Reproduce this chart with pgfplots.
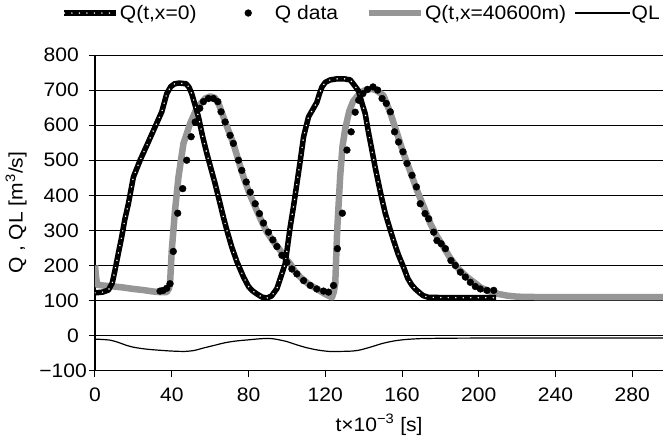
\documentclass[border=0pt]{standalone}
\usepackage{fontspec}
\setmainfont{Liberation Sans}[FakeStretch=1.08]
\usepackage{pgfplots}
\usepackage{pgfplotstable}
\pgfplotsset{compat=1.18}
\newcommand\ff{\fontsize{19.5}{23}\selectfont}
\newcommand\tsp{\rule{8pt}{0pt}}
\definecolor{qgray}{RGB}{150,150,150}

% Q(t, x=0)
\pgfplotstableread{
t q
0 122
4 124
7 130
9 150
10.4 186
12 230
13.9 281
15.5 330
17.4 376
20 452
23.5 500
27.8 552
31.3 595
34.8 638
37.4 690
39.5 710
41.5 718
44 720
47.5 718
49 708
50.4 690
52 660
53.9 624
56 570
58.3 519
60.5 475
62.6 433
64.8 385
66.9 338
69 295
71.3 252
74 210
77.4 167
80 140
82 128
84.3 119
87 110
89.6 107
92 113
94.8 134
97 170
99.1 205
101.7 309
103.5 370
105.2 433
107 500
108.7 567
111.3 624
113.5 645
115.6 665
117 690
118.3 709
120 722
122.6 729
126 732
130 732
133 729
135 715
137.4 697
139 665
140.8 633
142.5 580
144.3 529
146 480
147.8 433
149.5 390
151.3 348
153.5 308
155.6 271
158 232
160.8 195
163 163
165 145
166.9 133
169 123
171 114
173.9 109
190 108
209 108
}\qzero

% Q(t, x=40600m)
\pgfplotstableread{
t q
0 200
0.6 165
1.2 145
4 143
10 140
15 137
20 133
25 130
30 126
34 124
37.4 124
38.5 134
39.1 148
40 243
41.7 357
43.5 452
46.1 548
49.6 605
53 648
57.4 676
60 682
62.5 678
64.5 660
66.9 624
69.5 585
72.1 548
74.7 500
77.4 452
80.5 405
83.5 367
86.5 330
89.6 295
93 268
96.5 243
99 222
101.7 205
104 185
106.9 167
111 148
115.6 133
119.5 120
123.5 109
124.5 125
125.2 148
126.2 300
127.8 457
129 540
130.4 590
132.5 640
134.5 668
137.5 688
140 698
144.3 704
147 698
150.4 684
153.9 635
157.5 575
160.8 519
164.5 465
167.8 414
171.5 365
174.8 319
178 285
181.7 252
185 222
188.7 195
191 182
193.9 167
198 150
201 137
204.3 129
209 120
214.8 114
220 111
230 110
296 110
}\qfar

% Q data
\pgfplotstableread{
t q
33.9 127
35.5 129
37.4 135
39.1 148
40.8 240
43.1 349
45.7 419
47.8 500
50.1 567
52.2 609
54.6 648
56.5 667
59.1 676
61.7 676
64 667
65.7 638
67.8 609
70.4 571
72.1 548
74.8 500
76.5 471
78.8 438
80.9 409
83.5 376
85.7 348
87.8 321
90.4 295
92.7 273
94.8 254
97.4 229
100 209
102.6 190
105.2 176
108.7 157
112.2 143
115.6 133
119.1 127
121.7 124
124.3 143
126.3 248
128.9 349
131.3 529
133.5 581
135.6 637
137.4 671
139.6 690
142 702
144.9 709
147.3 700
149.6 676
151.8 662
153.9 638
156.1 581
158.2 552
160.5 524
162.6 491
165.2 457
167.5 424
169.5 376
172 348
173.9 333
176.5 295
178.2 271
180.4 262
182.6 248
185.5 214
187.8 200
190.4 181
193 167
195.6 152
198.2 140
200.8 133
204.3 129
207.8 129
}\qdata

% QL
\pgfplotstableread{
t q
0 -10
4 -11
8 -13
12 -19
16 -27
20 -33
26 -38
32 -41
40 -44
47 -45
52 -42
56 -36
62 -28
68 -20
74 -15
80 -12
86 -9
91 -8
95 -11
100 -17
105 -26
110 -34
116 -41
122 -45
128 -45
134 -44
138 -41
144 -32
150 -22
156 -15
162 -11
168 -9
174 -8
200 -7
296 -7
}\ql

\begin{document}
\begin{tikzpicture}
\begin{axis}[
  scale only axis, width=568pt, height=315.7pt,
  xmin=0, xmax=296, ymin=-100, ymax=800,
  axis lines=left, axis line style={-, line width=1.2pt},
  xtick={0,40,...,280},
  xticklabels={0,40,80,120,160,200,240,280},
  ytick={-100,0,...,800},
  yticklabels={−100,0\tsp,100\tsp,200\tsp,300\tsp,400\tsp,500\tsp,600\tsp,700\tsp,800\tsp},
  tick align=outside, major tick length=6pt,
  tick style={black, line width=1pt},
  ymajorgrids, major grid style={black, line width=1pt},
  tick label style={font=\ff},
  xticklabel style={inner sep=0pt, yshift=-11pt},
  yticklabel style={inner sep=0pt, xshift=-2pt},
  xlabel={t×10\textsuperscript{−3} [s]},
  ylabel={Q , QL [m\textsuperscript{3}/s]},
  label style={font=\ff},
  x label style={at={(axis description cs:0.5,0)}, anchor=center, yshift=-54pt},
  y label style={at={(axis description cs:-0.139,0.5)}, anchor=center},
  legend columns=4,
  legend style={at={(-0.059,1.133)}, anchor=west, draw=none, fill=none,
    inner sep=0pt, font=\ff, nodes={inner sep=0.7pt},
    /tikz/column 2/.style={column sep=25pt},
    /tikz/column 4/.style={column sep=27pt},
    /tikz/column 6/.style={column sep=8pt}},
  legend cell align=left,
]
\addplot[qgray, line width=6.5pt, line join=round, forget plot] table {\qfar};
\addplot[black, line width=5.5pt, line join=round, forget plot] table {\qzero};
\addplot[white, line width=1.6pt, line cap=round, dash pattern=on 0pt off 7.5pt, forget plot] table {\qzero};
\addplot[black, only marks, mark=*, mark size=3.4pt, forget plot] table {\qdata};
\addplot[black, line width=1.2pt, smooth, forget plot] table {\ql};

\addlegendimage{legend image code/.code={
  \draw[black, line width=5.5pt] (0pt,0pt) -- (52pt,0pt);
  \draw[white, line width=1.6pt, line cap=round, dash pattern=on 0pt off 7.5pt] (0pt,0pt) -- (52pt,0pt);}}
\addlegendentry{Q(t,x=0)}
\addlegendimage{legend image code/.code={
  \path[draw=none, fill=none] (0pt,-3pt) rectangle (52pt,3pt);
  \fill[black] (26pt,0pt) circle (3.4pt);}}
\addlegendentry{Q data}
\addlegendimage{legend image code/.code={\draw[qgray, line width=6.5pt] (0pt,0pt) -- (52pt,0pt);}}
\addlegendentry{Q(t,x=40600m)}
\addlegendimage{legend image code/.code={\draw[black, line width=1.2pt] (0pt,0pt) -- (55pt,0pt);}}
\addlegendentry{QL}
\end{axis}
\pgfresetboundingbox
\path[use as bounding box] (-95pt,-71.3pt) rectangle (568pt,370.7pt);
\end{tikzpicture}
\end{document}
